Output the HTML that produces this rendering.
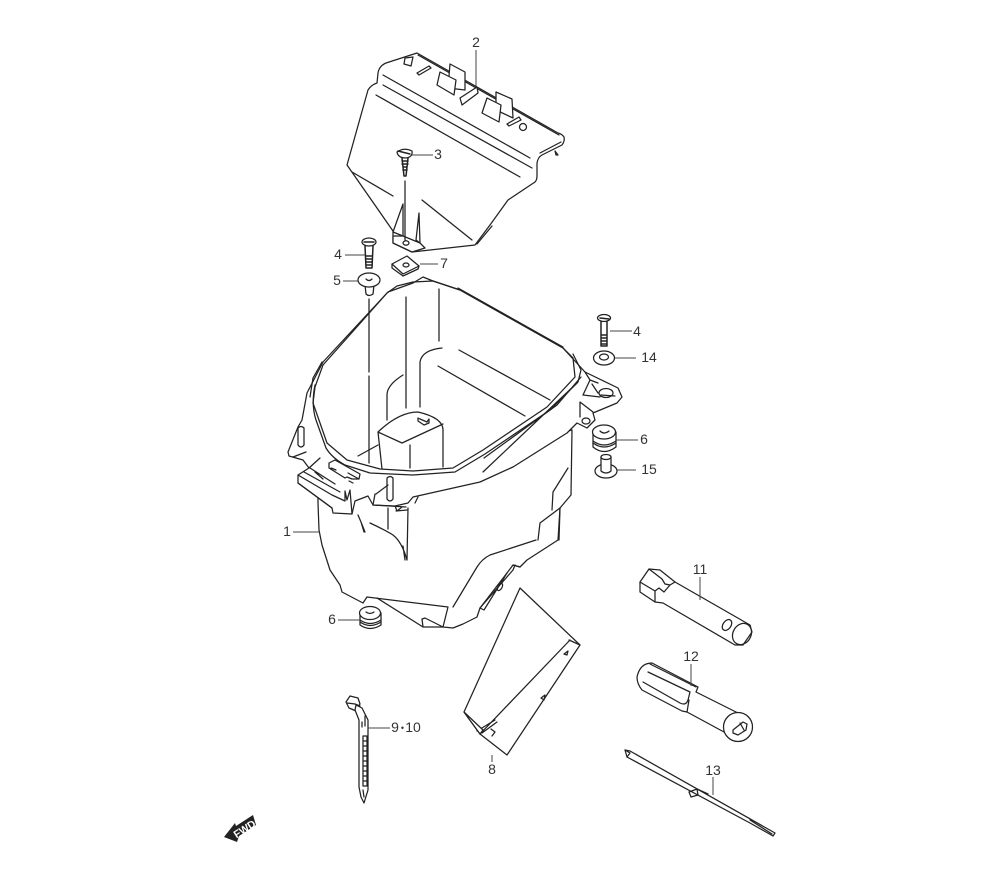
<!DOCTYPE html>
<html><head><meta charset="utf-8"><style>
html,body{margin:0;padding:0;background:#fff;width:1000px;height:880px;overflow:hidden}
svg{display:block}
.l{fill:#fff;stroke:#222;stroke-width:1.25;stroke-linejoin:round;stroke-linecap:round}
.n{fill:none;stroke:#222;stroke-width:1.25;stroke-linejoin:round;stroke-linecap:round}
.t{fill:none;stroke:#444;stroke-width:1}
.art{filter:blur(.3px)}
text{font-family:"Liberation Sans",sans-serif;font-size:14px;fill:#333;text-anchor:middle}
</style></head><body>
<svg width="1000" height="880" viewBox="0 0 1000 880" xmlns="http://www.w3.org/2000/svg">
<g class="art">
<!-- top cover -->
<path class="l" d="M417 53 L386 63 Q379 66 378 73 L377 83 Q371 85 368 90 L347 165 L393 231 L393 243 L412 252 L475 245 L490 225 L508 200 L535 182 Q537 180 537 176 L537 163 Q538 157 542 155 L562 145 Q565 141 564 137 Q562 134 558 133 Z"/>
<path class="n" d="M418 55 L559 135 M540 153 L561 142 M383 75 L530 158 M383 85 L532 168 M376 95 L520 177 M352 172 L393 196 M422 200 L472 240 M477 244 L492 226"/>
<path class="l" d="M404 64 L405 58 L413 57 L411 66 Z"/>
<path class="l" d="M417 73 L429 66 L431 68 L419 75 Z"/>
<path class="l" d="M507 124 L519 117 L521 120 L509 126 Z"/>
<path class="l" d="M448 88 L450 64 L465 72 L465 90 Z"/>
<path class="l" d="M437 85 L440 72 L456 80 L454 95 Z"/>
<path class="l" d="M460 98 L477 87 L478 93 L462 105 Z"/>
<path class="l" d="M496 110 L496 92 L512 99 L513 118 Z"/>
<path class="l" d="M482 113 L487 98 L501 105 L499 122 Z"/>
<ellipse class="l" cx="523" cy="127" rx="3.5" ry="3.5"/>
<path class="l" d="M393 232 L403 204 L403 236 Z M416 240 L419 213 L420 243 Z"/>
<path class="l" d="M393 243 L393 236 L403 236 L420 243 L425 248 L412 252 Z"/>
<ellipse class="n" cx="406" cy="243" rx="3" ry="2.2"/>
<path class="l" d="M555 151 L558 155 L556 155 Z"/>
<!-- bin body lower -->
<path class="l" d="M318 503 L319 530 L322 545 L330 570 L340 585 L342 592 L363 603 L367 597 L448 607 L443 627 L453 628 L463 624 L477 617 L480 608 L507 573 L513 565 L520 567 L527 560 L558 540 L560 508 L571 495 L572 430 L400 470 L318 470 Z"/>
<path class="n" d="M377 598 L423 627 L443 627 M423 627 L422 619 L425 618 L443 627 M453 607 L477 567 Q482 559 490 555 L536 540 M538 540 L540 523 L560 508 M568 468 L553 492 L552 510 M560 508 L559 540 M515 565 L513 570 L480 608 L484 610 L507 573 M513 565 L520 567"/>
<ellipse class="n" cx="500" cy="587" rx="2" ry="4" transform="rotate(30 500 587)"/>
<path class="n" d="M358 515 L361 522 L365 532 M361 522 L364 532 M370 523 Q385 530 393 535 Q402 542 407 560 M403 546 L405 560 M408 508 L407 560 M388 508 L388 529"/>
<!-- rim / upper shell -->
<path class="l" d="M288 452 L298 427 L302 420 L307 393 L323 362 L388 292 L413 283 L423 277 L433 281 L460 290 L563 348 L585 372 L618 388 L622 397 L617 403 L593 413 L595 420 L587 428 L577 423 L567 433 L513 467 L480 482 L413 497 L408 503 L395 506 L373 505 L368 496 L355 501 L352 514 L333 513 L332 508 L298 483 L298 475 L309 468 L303 460 L289 456 Z"/>
<path class="n" d="M323 365 L387 293 L397 286 L413 282 L433 281 L460 290 L563 348 L573 358 L575 377 L547 407 L483 450 L453 468 L413 471 L380 469 L347 460 L327 443 L313 403 L315 387 Z"/>
<path class="n" d="M315 385 Q311 405 316 420 L326 448 Q332 458 345 465 L370 473 L413 475 L455 472 L485 454 L550 410 L578 382 L581 370 L573 354"/>
<path class="n" d="M322 362 L313 378 L310 397 M581 377 L557 405 L484 458 M577 383 L483 472"/>
<path class="n" d="M458 288 L563 347"/>
<!-- inner bin -->
<path class="n" d="M406 297 L406 408 M439 289 L439 341 M442 348 Q422 350 420 362 L420 407 M459 350 L550 400 M438 366 L525 416 M403 375 Q387 385 387 395 L387 420 M369 299 L369 372 M369 376 L369 463"/>
<path class="n" d="M378 432 Q399 412 418 412 Q444 418 443 431 L443 467 M378 432 L382 469 M378 432 L402 443 L443 424 M410 445 L410 468 M358 456 L378 445"/>
<path class="n" d="M418 418 L420 419 L427 422 L429 419 L429 423 L424 425 L418 421 Z"/>
<!-- flange -->
<path class="n" d="M585 372 L590 380 L583 395 L600 397 M590 380 L598 383 M592 384 L598 393 M593 412 L580 402 L580 417"/>
<ellipse class="n" cx="606" cy="393" rx="7" ry="4.5"/>
<path class="n" d="M601 395 L615 396"/>
<ellipse class="n" cx="586" cy="421" rx="4" ry="3"/>
<!-- posts -->
<path class="l" d="M298 430 L298 445 Q301 449 304 445 L304 428 Q301 425 298 428 Z"/>
<path class="l" d="M387 478 L387 499 Q390 503 393 499 L393 478 Q390 475 387 478 Z"/>
<!-- left clip area -->
<path class="n" d="M298 475 L332 495 L345 501 L345 491 L347 500 L350 490 L352 514 M298 483 L332 508 M304 472 L340 492 M310 468 L335 484 M315 472 L323 479 M309 468 L320 458 M293 457 L306 452"/>
<path class="n" d="M329 463 L335 460 L360 474 L359 479 L352 479 L347 477 L345 478 L329 468 Z M331 468 L336 470 M348 473 L359 479 M349 481 L353 483"/>
<path class="n" d="M376 494 L388 485 M373 505 L375 494 M373 505 L406 507 M395 506 L397 511 L402 507 M396 511 L407 510 M418 497 L415 503"/>
<!-- part 3 -->
<path class="l" d="M397 152 Q404 147 412 151 Q413 157 406 158 Q398 158 397 152Z"/>
<path class="n" d="M402 158 L404 176 L406 176 L408 158 M402 161 L408 161 M402 164 L408 164 M403 167 L407 167 M403 170 L407 170 M398 151 L410 154" style="stroke-width:1.5"/>
<line class="n" x1="405" y1="181" x2="405" y2="240"/>
<!-- part 4 left -->
<ellipse class="l" cx="369" cy="242" rx="7" ry="4"/>
<path class="n" d="M365 246 L366 268 L372 268 L373 246 M366 256 L372 256 M366 259 L372 259 M366 262 L372 262 M366 265 L372 265 M364 242 L374 242" style="stroke-width:1.5"/>
<!-- part 7 -->
<path class="l" d="M392 264 L407 256 L419 266 L403 274 Z"/>
<path class="n" d="M392 264 L392 268 L403 276 L418 269 M419 266 L418 269"/>
<ellipse class="n" cx="406" cy="265" rx="3" ry="2"/>
<!-- part 5 -->
<path class="l" d="M365 285 L366 294 Q369 297 373 294 L374 285 Z"/>
<ellipse class="l" cx="369" cy="280" rx="11" ry="7"/>
<path class="n" d="M366 279 Q369 282 372 279"/>
<!-- part 4 right -->
<ellipse class="l" cx="604" cy="318" rx="6.5" ry="3.5"/>
<path class="n" d="M601 321 L601 346 L607 346 L607 321 M601 335 L607 335 M601 338 L607 338 M601 341 L607 341 M601 344 L607 344 M600 318 L609 319" style="stroke-width:1.5"/>
<!-- 14 -->
<ellipse class="l" cx="604" cy="358" rx="10.5" ry="7"/>
<ellipse class="n" cx="604" cy="357" rx="4.5" ry="3"/>
<!-- 6 right -->
<path class="l" d="M593 432 L593 447 Q604 456 616 447 L616 432 Z"/>
<ellipse class="l" cx="604" cy="432" rx="11.5" ry="7"/>
<path class="n" d="M600 431 Q604 435 609 431 M593 441 Q604 449 616 441 M593 443 Q604 451 616 443"/>
<!-- 15 -->
<ellipse class="l" cx="606" cy="471" rx="11" ry="7"/>
<path class="l" d="M601 457 L601 471 Q606 475 611 471 L611 457 Z"/>
<ellipse class="l" cx="606" cy="457" rx="5" ry="2.5"/>
<!-- 6 bottom -->
<path class="l" d="M360 613 L360 625 Q370 632 381 625 L381 613 Z"/>
<ellipse class="l" cx="370" cy="613" rx="10.5" ry="6.5"/>
<path class="n" d="M366 612 Q370 615 374 612 M360 620 Q370 627 381 620 M360 622 Q370 629 381 622"/>
<!-- flap 8 -->
<path class="l" d="M520 588 L580 645 L507 755 L480 734 L464 712 Z"/>
<path class="n" d="M480 734 L570 640 M580 645 L569 640 M477 731 L495 720 M482 733 L497 722"/>
<path class="l" d="M464 712 L483 730 L480 734 Z"/>
<path class="n" d="M564 654 L568 651 L567 655 Z M541 698 L545 695 L544 700 Z M491 729 L495 732 L492 736"/>
<!-- 11 -->
<path class="l" d="M640 582 L649 569 L660 570 L675 582 L750 625 L752 632 L743 645 L735 645 L663 603 L655 602 L640 592 Z"/>
<path class="n" d="M640 582 L655 591 L655 602 M649 569 L662 579 L665 584 L670 585 L675 582 M655 591 L659 588 L664 592 L670 585"/>
<ellipse class="n" cx="727" cy="625" rx="4" ry="6" transform="rotate(35 727 625)"/>
<ellipse class="n" cx="742" cy="634" rx="9" ry="11" transform="rotate(30 742 634)"/>
<!-- 12 -->
<path class="l" d="M652 663 L698 687 L696 692 L738 713 L724 732 L687 712 L682 711 L642 690 Q637 684 637 677 Q640 663 652 663 Z"/>
<path class="n" d="M648 672 L690 692 M643 682 L680 703 Q686 706 688 700 L690 692 M650 664 L696 687 M687 712 L689 700"/>
<circle class="l" cx="738" cy="727" r="14.5"/>
<path class="n" d="M733 730 L743 722 L747 724 L746 730 L738 735 L733 733 Z M740 723 L744 730"/>
<!-- 13 -->
<path class="l" d="M625 750 L630 751 L775 833 L773 836 L750 823 L627 757 Z"/>
<path class="n" d="M625 750 L630 753 L627 757 M750 820 L772 834 M689 792 L697 789 L698 795 L691 797 Z M697 789 L708 794"/>
<!-- tie -->
<path class="l" d="M346 702 L350 696 L358 698 L360 704 L356 711 L349 708 Z"/>
<path class="l" d="M356 705 L362 708 L368 720 L368 790 L364 803 L361 797 L359 787 L359 720 L355 710 Z"/>
<path class="n" d="M347 703 L355 704 L360 706 M362 722 L362 727 M365 716 L365 726 M363 736 L367 736 L367 786 L363 786 Z M363 741 L367 741 M363 746 L367 746 M363 751 L367 751 M363 756 L367 756 M363 761 L367 761 M363 766 L367 766 M363 771 L367 771 M363 776 L367 776 M363 781 L367 781 M363 790 L364 797"/>
<!-- leaders -->
<g class="t">
<path d="M476 50 L476 86 M412 155 L433 155 M345 255 L365 255 M420 264 L438 264 M343 281 L358 281 M610 331 L632 331 M615 358 L636 358 M616 440 L638 440 M617 470 L636 470 M293 532 L319 532 M338 620 L360 620 M700 577 L700 600 M691 664 L691 686 M713 777 L713 795 M368 728 L390 728 M492 755 L492 762"/>
</g>
</g>
<!-- labels -->
<text x="476" y="47">2</text>
<text x="438" y="159">3</text>
<text x="338" y="259">4</text>
<text x="444" y="268">7</text>
<text x="337" y="285">5</text>
<text x="637" y="336">4</text>
<text x="649" y="362">14</text>
<text x="644" y="444">6</text>
<text x="649" y="474">15</text>
<text x="287" y="536">1</text>
<text x="332" y="624">6</text>
<text x="700" y="574">11</text>
<text x="691" y="661">12</text>
<text x="713" y="775">13</text>
<text x="395" y="732">9</text>
<text x="402.5" y="731" style="font-size:9px">•</text>
<text x="413" y="732">10</text>
<text x="492" y="774">8</text>
<!-- FWD -->
<path d="M224 837 L235 823 L236 826 L253 815 L256 825 L239 836 L237 842 Z" fill="#222"/>
<text transform="translate(246.5 832) rotate(-33)" style="font-size:10.5px;font-weight:bold;fill:#fff">FWD</text>
</svg>
</body></html>
